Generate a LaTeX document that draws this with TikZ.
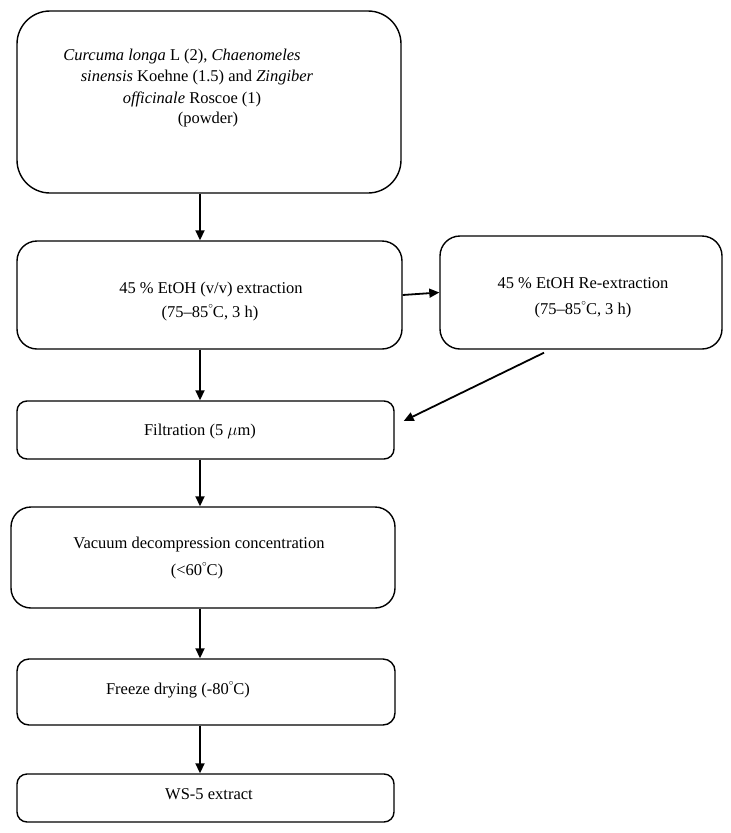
\documentclass[tikz,border=0pt]{standalone}
\usepackage{fontspec}
\setmainfont{Liberation Serif}
\usetikzlibrary{arrows.meta,calc}
\newcommand{\dg}{\raisebox{1.15ex}{\fontsize{9}{9}\selectfont$\circ$}}
\begin{document}
\begin{tikzpicture}[x=1pt,y=-1pt,
  box/.style={draw,line width=1.4pt,rounded corners=#1,inner sep=0pt},
  box/.default=20pt,
  txt/.style={inner sep=0pt,font=\fontsize{16.5}{19}\selectfont},
  arr/.style={line width=1.8pt,-{Triangle[length=10pt,width=9pt]}}]
\useasboundingbox (0,0) rectangle (731,833);
% boxes
\node[box=33pt,minimum width=384pt,minimum height=182pt] (top) at (209,102) {};
\node[box,minimum width=385pt,minimum height=108pt] (ext) at (209.5,295) {};
\node[box,minimum width=282pt,minimum height=113pt] (rex) at (581,292.5) {};
\node[box=10pt,minimum width=377pt,minimum height=58pt] (fil) at (205.5,430) {};
\node[box,minimum width=384pt,minimum height=101pt] (vac) at (203,557.5) {};
\node[box=12pt,minimum width=378pt,minimum height=66pt] (frz) at (206,692) {};
\node[box=10pt,minimum width=377pt,minimum height=48pt] (ws) at (205.5,798) {};
% texts
\node[txt] (t1) at (182,57) {\textit{Curcuma longa} L (2), \textit{Chaenomeles}};
\node[txt] (t2) at (197,78) {\textit{sinensis} Koehne (1.5) and \textit{Zingiber}};
\node[txt] (t3) at (192,99) {\textit{officinale} Roscoe (1)};
\node[txt] (t4) at (208,120) {(powder)};
\node[txt] (e1) at (211,290) {45 \% EtOH (v/v) extraction};
\node[txt] (e2) at (210,313) {(75--85\dg C, 3 h)};
\node[txt] (r1) at (583,283) {45 \% EtOH Re-extraction};
\node[txt] (r2) at (583,310) {(75--85\dg C, 3 h)};
\node[txt] (f1) at (200,432) {Filtration (5 $\mu$m)};
\node[txt] (v1) at (199,545) {Vacuum decompression concentration};
\node[txt] (v2) at (197,571) {(<60\dg C)};
\node[txt] (z1) at (178,690) {Freeze drying (-80\dg C)};
\node[txt] (w1) at (209,794) {WS-5 extract};
% connectors
\coordinate (ax) at (200,0);
\coordinate (dg) at (544,0);
\draw[arr] (top.south -| ax) -- (ext.north -| ax);
\draw[arr] (ext.east) -- (rex.west);
\draw[arr] (ext.south -| ax) -- (fil.north -| ax);
\draw[arr] ($(rex.south -| dg)+(0,3)$) -- ($(fil.east)+(9,-9)$);
\draw[arr] (fil.south -| ax) -- (vac.north -| ax);
\draw[arr] (vac.south -| ax) -- (frz.north -| ax);
\draw[arr] (frz.south -| ax) -- (ws.north -| ax);
\end{tikzpicture}
\end{document}
